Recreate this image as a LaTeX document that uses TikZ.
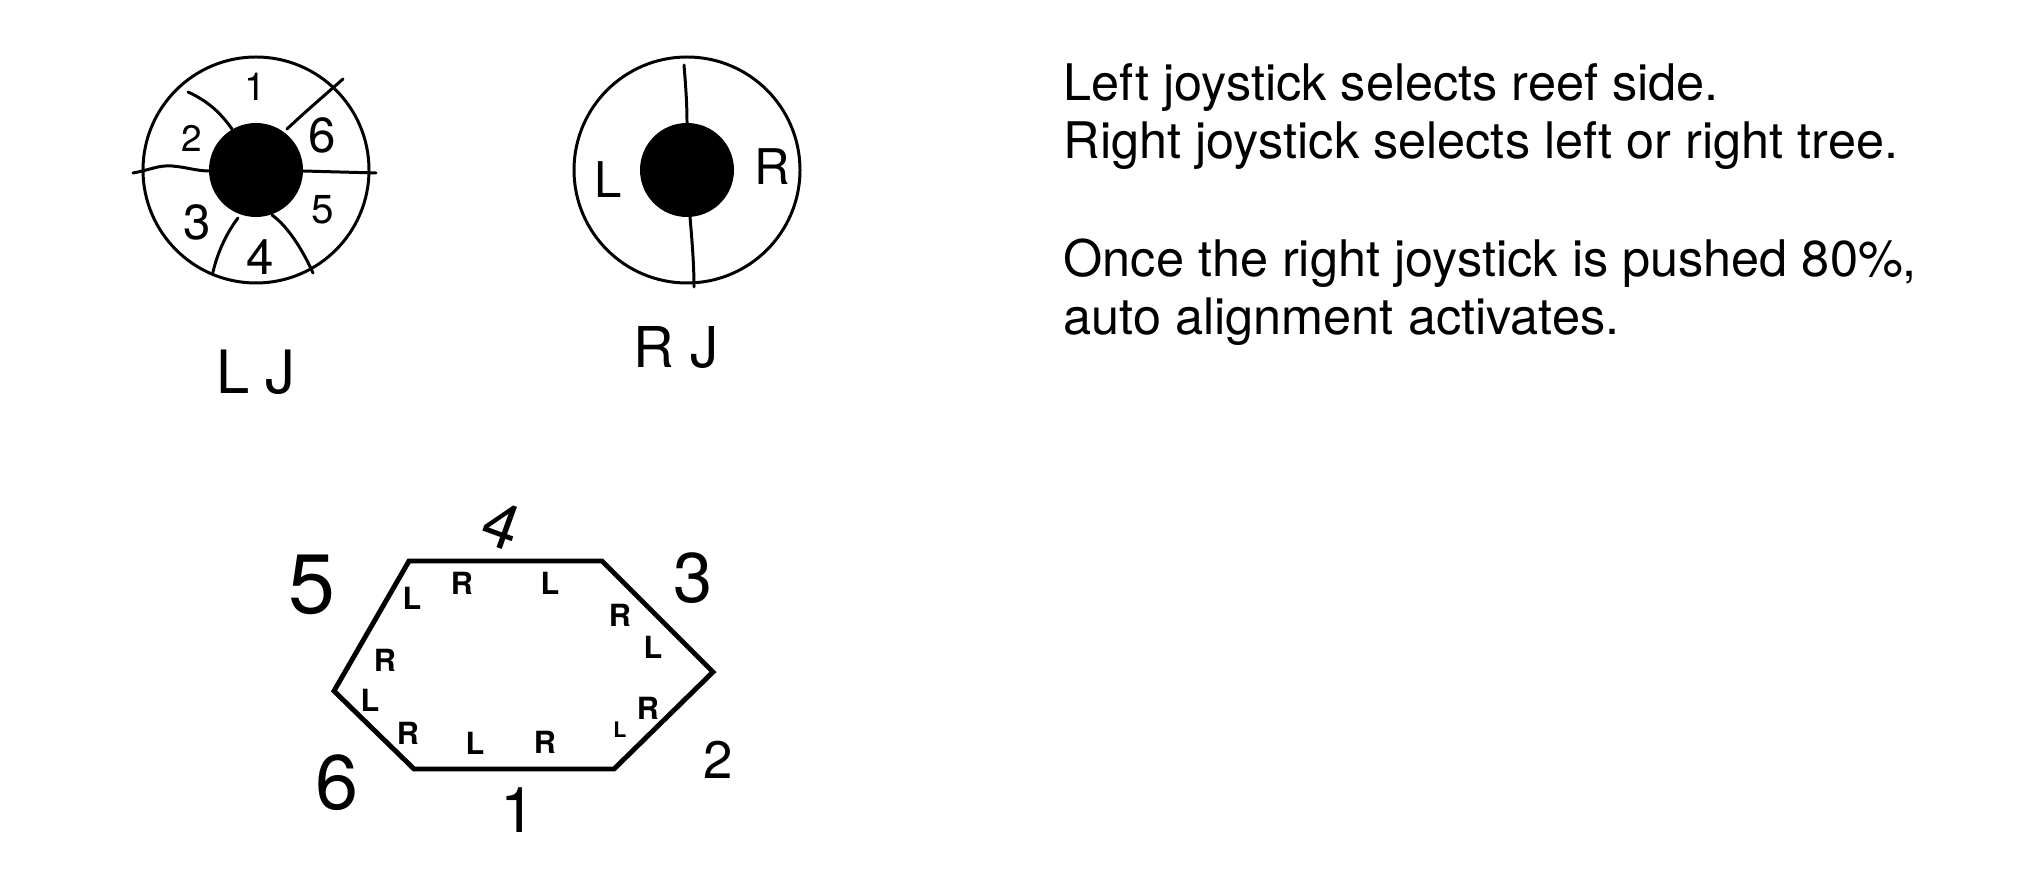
\documentclass[tikz,border=0pt]{standalone}
\usepackage{fontspec}
\setsansfont{TeX Gyre Heros}
\usetikzlibrary{calc}
\definecolor{tinta}{HTML}{000000}
\tikzset{
  % Trazo a mano alzada: aros de los mandos y separaciones de sectores
  trazo/.style    = {line width=0.85pt, color=tinta, line cap=round, line join=round},
  % Contorno del arrecife (hexágono)
  arrecife/.style = {line width=1.4pt, color=tinta, line join=miter},
  % Palanca del mando (disco negro)
  palanca/.style  = {fill=tinta, draw=none},
  % Números y letras escritos a mano (tamaño en pt como argumento)
  cifra/.style    = {font=\sffamily\fontsize{#1}{#1}\selectfont, inner sep=0pt, color=tinta},
  cifra/.default  = 10,
  % Lados L/R dentro del arrecife
  rama/.style     = {font=\sffamily\bfseries\fontsize{8.7}{8.7}\selectfont, inner sep=0pt, color=tinta},
  % Texto explicativo de la derecha
  nota/.style     = {font=\sffamily\fontsize{14.35}{16.5}\selectfont, align=left,
                     anchor=north west, inner sep=0pt, color=tinta},
}

\begin{document}
\begin{tikzpicture}[x=0.1mm, y=-0.1mm]
  \useasboundingbox (0,0) rectangle (2028,889);

  % ============================================================
  % Mando izquierdo (LJ): seis sectores, uno por cara
  % ============================================================
  \coordinate (LJ) at (256,170);
  \draw[trazo] (LJ) circle[radius=113];
  \draw[trazo] (133,173) .. controls (150,170) and (158,165) .. (172,166)
                         .. controls (186,167) and (196,171) .. (210,171);
  \draw[trazo] (303,171) -- (376,173);
  \draw[trazo] (188,92) .. controls (210,102) and (222,115) .. (232,129);
  \draw[trazo] (287,129) .. controls (305,112) and (325,95) .. (343,79);
  \draw[trazo] (238,218) .. controls (225,235) and (217,255) .. (213,272);
  \draw[trazo] (272,215) .. controls (290,228) and (305,255) .. (313,273);
  \fill[palanca] (LJ) circle[radius=47];

  \node[cifra=11]   (lj1) at (255,87)  {1};
  \node[cifra=10.5] (lj2) at (192,138) {2};
  \node[cifra=14]   (lj6) at (322,135) {6};
  \node[cifra=14]   (lj3) at (197,222) {3};
  \node[cifra=11.5] (lj5) at (323,210) {5};
  \node[cifra=14]   (lj4) at (260,257) {4};
  \node[cifra=17]   (ljt) at (256,372) {L J};

  % ============================================================
  % Mando derecho (RJ): rama izquierda / derecha
  % ============================================================
  \coordinate (RJ) at (687,170);
  \draw[trazo] (RJ) circle[radius=113];
  \draw[trazo] (684,65) .. controls (686,90) and (687,105) .. (687,123);
  \draw[trazo] (690,217) .. controls (692,240) and (694,265) .. (694,287);
  \fill[palanca] (RJ) circle[radius=47];

  \node[cifra=14] (rjl) at (608,180) {L};
  \node[cifra=14] (rjr) at (772,167) {R};
  \node[cifra=16] (rjt) at (676,348) {R J};

  % ============================================================
  % Arrecife: caras numeradas y ramas L/R en cada una
  % ============================================================
  \coordinate (h-no) at (409,561);
  \coordinate (h-ne) at (602,561);
  \coordinate (h-e)  at (713,672);
  \coordinate (h-se) at (614,769);
  \coordinate (h-so) at (414,769);
  \coordinate (h-o)  at (334,691);
  \draw[arrecife] (h-no) -- (h-ne) -- (h-e) -- (h-se) -- (h-so) -- (h-o) -- cycle;

  \node[cifra=18, rotate=-20] (h4) at (502,525) {4};
  \node[cifra=20] (h3) at (693,578) {3};
  \node[cifra=24] (h5) at (312,585) {5};
  \node[cifra=22] (h6) at (337,783) {6};
  \node[cifra=18] (h1) at (518,810) {1};
  \node[cifra=15] (h2) at (718,760) {2};

  \node[rama] (r1)  at (412,598) {L};
  \node[rama] (r2)  at (462,583) {R};
  \node[rama] (r3)  at (550,583) {L};
  \node[rama] (r4)  at (620,615) {R};
  \node[rama] (r5)  at (653,647) {L};
  \node[rama] (r6)  at (385,660) {R};
  \node[rama] (r7)  at (370,700) {L};
  \node[rama] (r8)  at (408,733) {R};
  \node[rama] (r9)  at (475,743) {L};
  \node[rama] (r10) at (545,742) {R};
  \node[rama, scale=0.7] (r11) at (620,730) {L};
  \node[rama] (r12) at (648,708) {R};

  % ============================================================
  % Explicación
  % ============================================================
  \node[nota] (nota1) at (1063,63)
    {Left joystick selects reef side.\\Right joystick selects left or right tree.};
  \node[nota] (nota2) at (1063,238)
    {Once the right joystick is pushed 80\%,\\auto alignment activates.};

\end{tikzpicture}
\end{document}
